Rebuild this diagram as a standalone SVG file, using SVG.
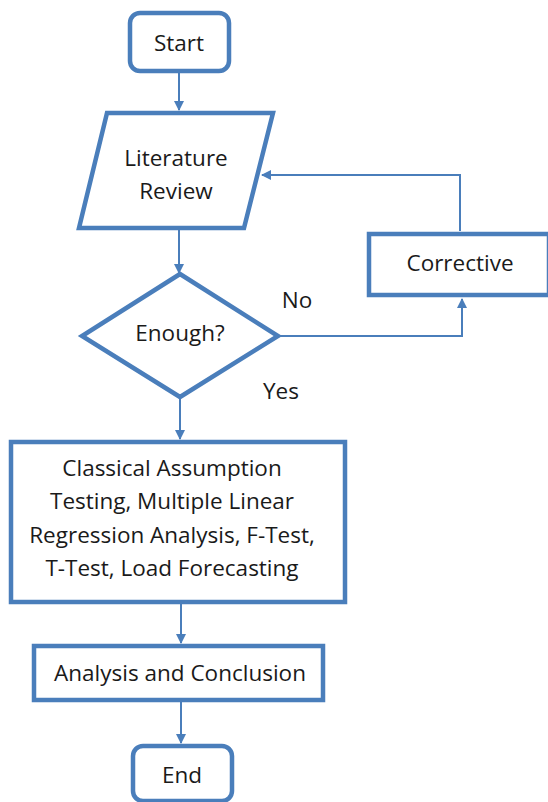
<svg xmlns="http://www.w3.org/2000/svg" width="548" height="802" viewBox="0 0 548 802">
<style>
.n{fill:#fff;stroke:#4a7ebb;stroke-width:4.5}
.c{fill:none;stroke:#4a7ebb;stroke-width:2}
text{font-family:"Open Sans","Liberation Sans",sans-serif;font-size:22.5px;fill:#1a1a1a;text-anchor:middle}
</style>
<defs>
<marker id="a" markerWidth="10" markerHeight="10" refX="9" refY="5" orient="auto" markerUnits="userSpaceOnUse">
<path d="M0,0 L10,5 L0,10 Z" fill="#4a7ebb"/>
</marker>
</defs>
<g id="connectors">
<path class="c" d="M179,72 V110" marker-end="url(#a)"/>
<path class="c" d="M179,230 V273" marker-end="url(#a)"/>
<path class="c" d="M278,336 H462 V299" marker-end="url(#a)"/>
<path class="c" d="M460,231 V175 H262" marker-end="url(#a)"/>
<path class="c" d="M180,398 V439" marker-end="url(#a)"/>
<path class="c" d="M181,603 V643" marker-end="url(#a)"/>
<path class="c" d="M181,701 V743" marker-end="url(#a)"/>
</g>
<g id="start">
<rect class="n" x="130" y="13" width="99" height="58" rx="10"/>
<text x="179" y="51">Start</text>
</g>
<g id="literature">
<polygon class="n" points="107,113 273,113 244,228 79,228"/>
<text x="176" y="166">Literature</text>
<text x="176" y="199">Review</text>
</g>
<g id="enough">
<polygon class="n" points="180,274 278,336 180,397 82,336"/>
<text x="180" y="341">Enough?</text>
</g>
<g id="corrective">
<rect class="n" x="369" y="234" width="180" height="61"/>
<text x="460" y="271">Corrective</text>
</g>
<text x="297" y="308">No</text>
<text x="281" y="399">Yes</text>
<g id="process">
<rect class="n" x="11" y="442" width="334" height="160"/>
<text x="172" y="476">Classical Assumption</text>
<text x="172" y="509">Testing, Multiple Linear</text>
<text x="172" y="543">Regression Analysis, F-Test,</text>
<text x="172" y="576">T-Test, Load Forecasting</text>
</g>
<g id="analysis">
<rect class="n" x="34" y="646" width="289" height="54"/>
<text x="180" y="681">Analysis and Conclusion</text>
</g>
<g id="end">
<rect class="n" x="133" y="746" width="99" height="55" rx="10"/>
<text x="182" y="783">End</text>
</g>
</svg>
